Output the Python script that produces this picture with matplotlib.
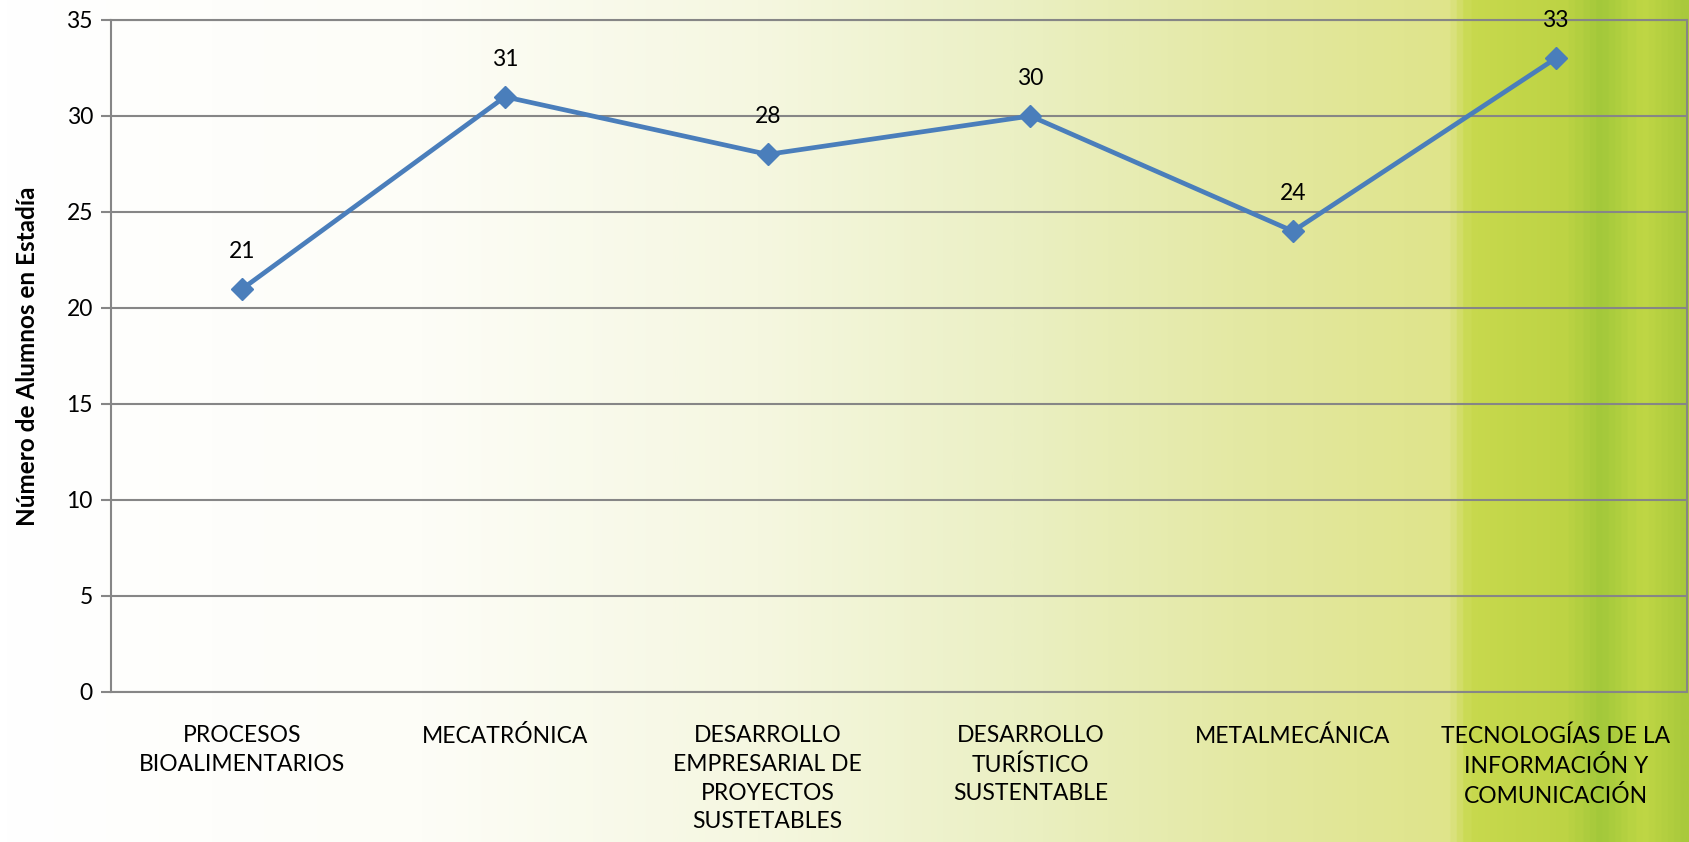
import numpy as np
import matplotlib
matplotlib.use("Agg")
import matplotlib.pyplot as plt
from matplotlib.colors import LinearSegmentedColormap

categories = [
    "PROCESOS\nBIOALIMENTARIOS",
    "MECATRÓNICA",
    "DESARROLLO\nEMPRESARIAL DE\nPROYECTOS\nSUSTETABLES",
    "DESARROLLO\nTURÍSTICO\nSUSTENTABLE",
    "METALMECÁNICA",
    "TECNOLOGÍAS DE LA\nINFORMACIÓN Y\nCOMUNICACIÓN",
]
values = [21, 31, 28, 30, 24, 33]
y_ticks = [0, 5, 10, 15, 20, 25, 30, 35]
y_label = "Número de Alumnos en Estadía"

plt.rcParams['font.family'] = ['Lato', 'DejaVu Sans']

fig = plt.figure(figsize=(16.89, 8.42), dpi=100)

# background gradient
stops = [
    (0.00, "#ffffff"), (0.25, "#fdfdf7"), (0.45, "#f5f7e0"),
    (0.60, "#ebf0c4"), (0.75, "#e3e8a0"), (0.86, "#dfe48a"),
    (0.872, "#c8d94e"), (0.93, "#bdd344"), (0.95, "#a2c83a"),
    (0.975, "#c0d745"), (1.00, "#a9c93c"),
]
cmap = LinearSegmentedColormap.from_list("bg", stops)
bg = fig.add_axes([0, 0, 1, 1], zorder=-10)
grad = np.linspace(0, 1, 800).reshape(1, -1)
bg.imshow(grad, aspect="auto", cmap=cmap, extent=[0, 1, 0, 1])
bg.set_axis_off()

ax = fig.add_axes([111/1689, 150/842, 1576/1689, 672/842])
ax.patch.set_alpha(0)

x = np.arange(len(categories))
ax.plot(x, values, color="#4a7ebb", lw=3.4, marker="D", ms=11, mec="#4a7ebb", mfc="#4a7ebb", zorder=5)
for xi, v in zip(x, values):
    ax.annotate(str(v), (xi, v), xytext=(0, 27), textcoords="offset points",
                ha="center", va="center", fontsize=16.5, color="#000000")

ax.set_xlim(-0.5, len(categories) - 0.5)
ax.set_ylim(0, 35)
ax.set_yticks(y_ticks)
ax.yaxis.grid(True, color="#868686", lw=1.5)
ax.set_axisbelow(True)
ax.set_xticks(x)
ax.set_xticklabels(categories, fontsize=16.5, linespacing=1.45)
ax.tick_params(axis="x", length=0, pad=24)
ax.tick_params(axis="y", length=7, width=1.5, color="#868686", labelsize=16.5, pad=6)
for s in ax.spines.values():
    s.set_color("#868686")
    s.set_linewidth(1.5)

ax.set_ylabel(y_label, fontsize=17.5, fontweight="bold", labelpad=20)

fig.savefig("out.png", dpi=100)
